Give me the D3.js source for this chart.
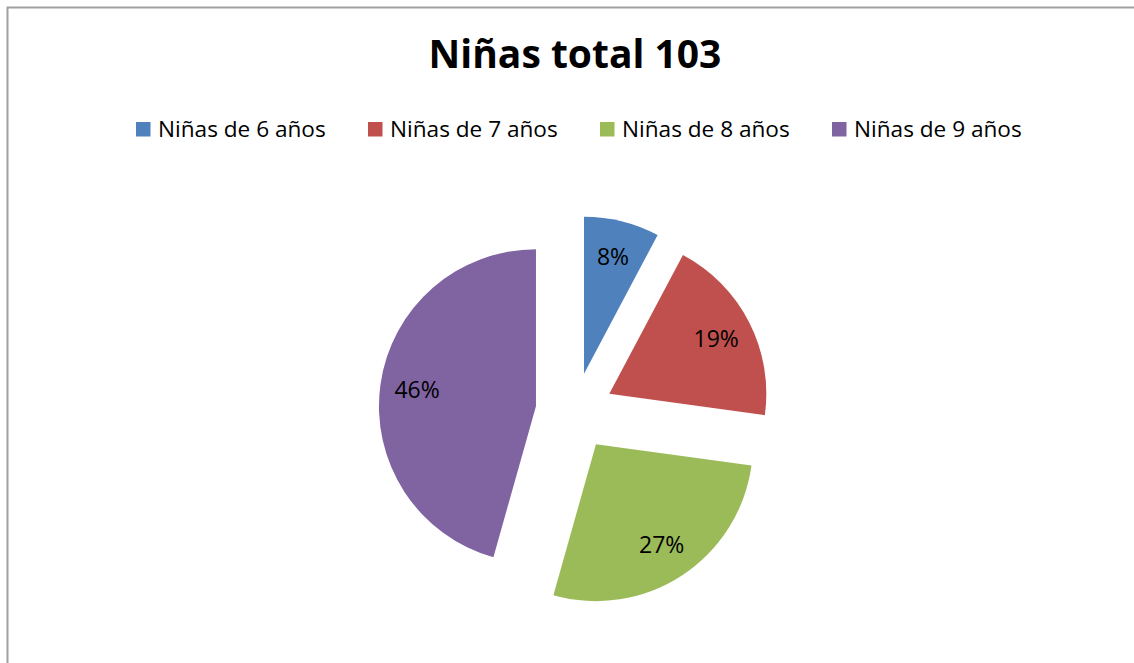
<!DOCTYPE html>
<html>
<head>
<meta charset="utf-8">
<script src="https://cdn.jsdelivr.net/npm/d3@7"></script>
<style>
  html, body { margin: 0; padding: 0; background: #fff; overflow: hidden; }
  text { font-family: "Open Sans", "Noto Sans", sans-serif; }
</style>
</head>
<body>
<svg id="chart" width="1134" height="663"></svg>
<script>
// ---- data ----
const title = "Niñas total 103";
const categories = ["Niñas de 6 años", "Niñas de 7 años", "Niñas de 8 años", "Niñas de 9 años"];
const values = [8, 20, 28, 47];
const colors = ["#4F81BD", "#C0504D", "#9BBB59", "#8064A2"];

const W = 1134, H = 663;
const svg = d3.select("#chart");

// chart area border (extends beyond the visible window on right and bottom)
svg.append("rect")
  .attr("x", 7.5).attr("y", 7.5)
  .attr("width", 1150).attr("height", 680)
  .attr("fill", "#fff")
  .attr("stroke", "#A0A0A0")
  .attr("stroke-width", 2);

// title
svg.append("text")
  .attr("x", 575).attr("y", 68)
  .attr("text-anchor", "middle")
  .attr("font-weight", "bold")
  .attr("font-size", 39)
  .attr("fill", "#000")
  .text(title);

// legend
const legendX = d3.scalePoint().domain(categories).range([136, 832]);
const leg = svg.append("g").selectAll("g").data(categories).join("g")
  .attr("transform", d => `translate(${legendX(d)},122)`);
leg.append("rect").attr("width", 14.5).attr("height", 14.5)
  .attr("fill", (d, i) => colors[i]);
leg.append("text").attr("x", 22).attr("y", 14.5)
  .attr("font-size", 22.6).attr("fill", "#000")
  .text(d => d);

// pie
const cx = 574.6, cy = 411.5, r = 157, explode = 39, labelR = 120;
const total = d3.sum(values);
const pie = d3.pie().sort(null).value(d => d);
const arcs = pie(values);
const arc = d3.arc().innerRadius(0).outerRadius(r);
const fmt = d3.format(".0%");

const g = svg.append("g").attr("transform", `translate(${cx},${cy})`);
const slices = g.selectAll("g.slice").data(arcs).join("g")
  .attr("class", "slice")
  .attr("transform", d => {
    const a = (d.startAngle + d.endAngle) / 2;
    return `translate(${explode * Math.sin(a)},${-explode * Math.cos(a)})`;
  });
slices.append("path").attr("d", arc).attr("fill", (d, i) => colors[i]);
slices.append("text")
  .attr("transform", d => {
    const a = (d.startAngle + d.endAngle) / 2;
    return `translate(${labelR * Math.sin(a)},${-labelR * Math.cos(a)})`;
  })
  .attr("text-anchor", "middle")
  .attr("dy", "0.35em")
  .attr("font-size", 23)
  .attr("fill", "#000")
  .text(d => fmt(d.value / total));
</script>
</body>
</html>
